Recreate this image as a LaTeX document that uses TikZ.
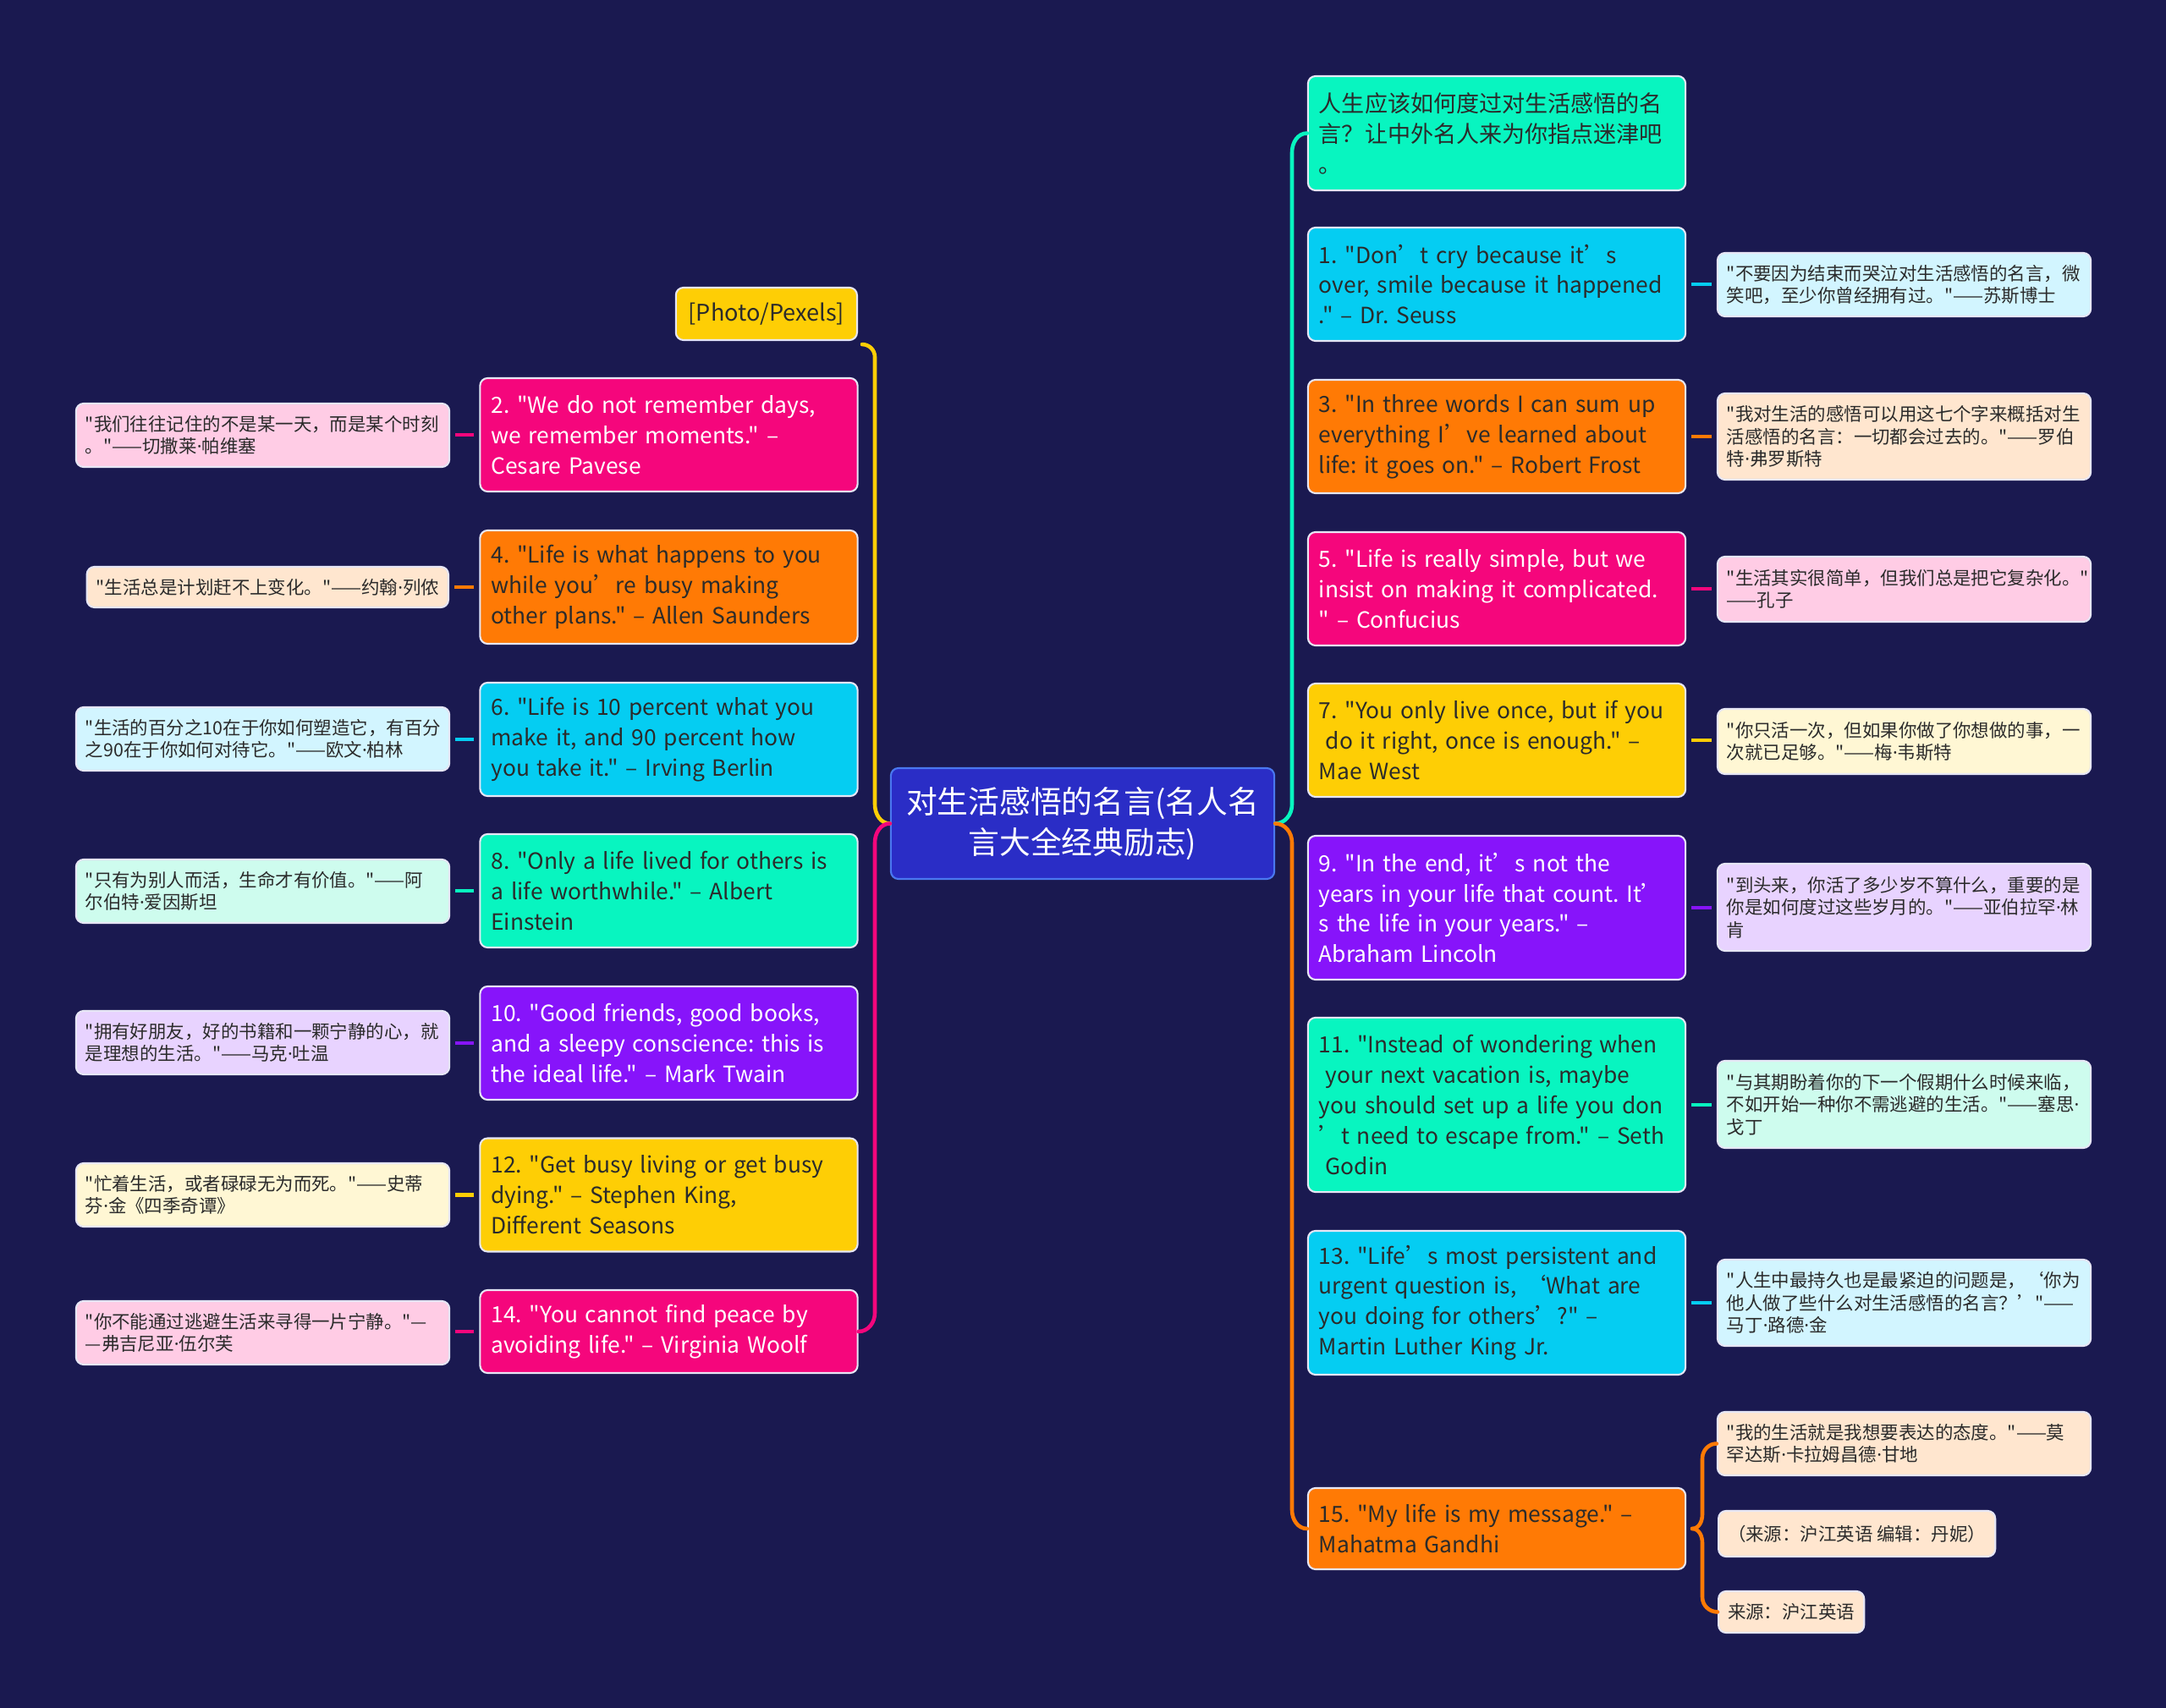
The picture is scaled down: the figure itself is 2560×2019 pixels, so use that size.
\documentclass[tikz,border=0pt]{standalone}
\usepackage{fontspec}
\newfontfamily\qf{Noto Sans CJK SC}
\newfontfamily\latf{Noto Sans}
\setmainfont{Noto Sans CJK SC}
\newcommand{\pdot}{{\latf\char"B7}}
\hyphenpenalty=10000
\exhyphenpenalty=10000
\frenchspacing
\usetikzlibrary{calc}
\definecolor{bgc}{HTML}{1A1950}
\definecolor{pinkc}{HTML}{F5067C}
\definecolor{orangec}{HTML}{FF7A05}
\definecolor{cyanc}{HTML}{05CDF2}
\definecolor{mintc}{HTML}{08F5C0}
\definecolor{yellowc}{HTML}{FECE05}
\definecolor{purplec}{HTML}{8714FA}
\definecolor{pinkl}{HTML}{FFCCE5}
\definecolor{orangel}{HTML}{FFE6CF}
\definecolor{cyanl}{HTML}{D2F5FF}
\definecolor{mintl}{HTML}{CEFCEE}
\definecolor{yellowl}{HTML}{FFF7D4}
\definecolor{purplel}{HTML}{E8D3FF}
\definecolor{centc}{HTML}{2A2DC6}
\definecolor{centb}{HTML}{4A78F0}
\definecolor{edgec}{HTML}{E6E6F5}
\definecolor{darkc}{HTML}{2B2B2B}
\begin{document}
\begin{tikzpicture}[x=0.01cm,y=0.01cm,
 box/.style={rectangle, rounded corners=0.09cm, draw=edgec, line width=0.6pt, align=left, inner ysep=0pt},
 mainbox/.style={box, inner xsep=0.13cm, text width=4.2cm, font=\qf\fontsize{7.5pt}{10.2pt}\selectfont},
 leafbox/.style={box, inner xsep=0.11cm, text width=4.19cm, font=\qf\fontsize{6.1pt}{7.5pt}\selectfont, text=darkc},
 leafone/.style={box, inner xsep=0.11cm, font=\qf\fontsize{6.1pt}{7.5pt}\selectfont, text=darkc},
 stub/.style={line width=1.4pt, shorten <=0.06cm, shorten >=0.06cm},
 branch/.style={line width=1.3pt, line cap=round}]
\useasboundingbox (0,0) rectangle (2560,-2019);
\fill[bgc] (0,0) rectangle (2560,-2019);

% center
\node[box, fill=centc, draw=centb, text=white, font=\qf\fontsize{10.45pt}{13.5pt}\selectfont, align=center, text width=4.3cm, inner xsep=0.115cm, minimum height=1.31cm] (c) at (1279.5,-973.5) {对生活感悟的名言(名人名\\言大全经典励志)};

% right main nodes
\node[mainbox, fill=mintc, text=darkc, minimum height=1.35cm, font=\qf\fontsize{7.7pt}{10.2pt}\selectfont] (r0) at (1769,-157.5) {人生应该如何度过对生活感悟的名\\言？让中外名人来为你指点迷津吧\\。};
\node[mainbox, fill=cyanc, text=darkc, minimum height=1.34cm] (n1) at (1769,-336) {1. "Don’t cry because it’s\\over, smile because it happened\\." – Dr. Seuss};
\node[mainbox, fill=orangec, text=darkc, minimum height=1.34cm] (n3) at (1769,-516) {3. "In three words I can sum up\\everything I’ve learned about\\life: it goes on." – Robert Frost};
\node[mainbox, fill=pinkc, text=white, minimum height=1.34cm] (n5) at (1769,-696) {5. "Life is really simple, but we\\insist on making it complicated.\\" – Confucius};
\node[mainbox, fill=yellowc, text=darkc, minimum height=1.34cm] (n7) at (1769,-875) {7. "You only live once, but if you\\\hspace*{0.3em}do it right, once is enough." –\\Mae West};
\node[mainbox, fill=purplec, text=white, minimum height=1.70cm] (n9) at (1769,-1073) {9. "In the end, it’s not the\\years in your life that count. It’\\s the life in your years." –\\Abraham Lincoln};
\node[mainbox, fill=mintc, text=darkc, minimum height=2.06cm] (n11) at (1769,-1306) {11. "Instead of wondering when\\\hspace*{0.3em}your next vacation is, maybe\\you should set up a life you don\\’t need to escape from." – Seth\\\hspace*{0.3em}Godin};
\node[mainbox, fill=cyanc, text=darkc, minimum height=1.70cm] (n13) at (1769,-1540) {13. "Life’s most persistent and\\urgent question is, ‘What are\\you doing for others’?" –\\Martin Luther King Jr.};
\node[mainbox, fill=orangec, text=darkc, minimum height=0.96cm] (n15) at (1769,-1807) {15. "My life is my message." –\\Mahatma Gandhi};

% right leaves
\node[leafbox, fill=cyanl, minimum height=0.75cm] (l1) at (2250.5,-336.5) {"不要因为结束而哭泣对生活感悟的名言，微\\笑吧，至少你曾经拥有过。"——苏斯博士};
\node[leafbox, fill=orangel, minimum height=1.02cm] (l3) at (2250.5,-516) {"我对生活的感悟可以用这七个字来概括对生\\活感悟的名言：一切都会过去的。"——罗伯\\特\pdot 弗罗斯特};
\node[leafbox, fill=pinkl, minimum height=0.77cm] (l5) at (2250.5,-696.5) {"生活其实很简单，但我们总是把它复杂化。"\\——孔子};
\node[leafbox, fill=yellowl, minimum height=0.77cm] (l7) at (2250.5,-876.5) {"你只活一次，但如果你做了你想做的事，一\\次就已足够。"——梅\pdot 韦斯特};
\node[leafbox, fill=purplel, minimum height=1.03cm] (l9) at (2250.5,-1072.5) {"到头来，你活了多少岁不算什么，重要的是\\你是如何度过这些岁月的。"——亚伯拉罕\pdot 林\\肯};
\node[leafbox, fill=mintl, minimum height=1.03cm] (l11) at (2250.5,-1305.5) {"与其期盼着你的下一个假期什么时候来临，\\不如开始一种你不需逃避的生活。"——塞思\pdot\\戈丁};
\node[leafbox, fill=cyanl, minimum height=1.02cm] (l13) at (2250.5,-1540) {"人生中最持久也是最紧迫的问题是，‘你为\\他人做了些什么对生活感悟的名言？’"——\\马丁\pdot 路德\pdot 金};
\node[leafbox, fill=orangel, minimum height=0.75cm] (l15a) at (2250.5,-1706.5) {"我的生活就是我想要表达的态度。"——莫\\罕达斯\pdot 卡拉姆昌德\pdot 甘地};
\node[leafone, fill=orangel, minimum height=0.54cm, anchor=west] (l15b) at (2030,-1813) {（来源：沪江英语 编辑：丹妮）};
\node[leafone, fill=orangel, minimum height=0.49cm, anchor=west] (l15c) at (2030,-1905.5) {来源：沪江英语};

% left main nodes
\node[box, fill=yellowc, text=darkc, inner xsep=0.15cm, font=\qf\fontsize{7.7pt}{10.2pt}\selectfont, minimum height=0.62cm, anchor=east] (photo) at (1014,-371) {[Photo/Pexels]};
\node[mainbox, fill=pinkc, text=white, minimum height=1.34cm] (n2) at (790.5,-514) {2. "We do not remember days,\\we remember moments." –\\Cesare Pavese};
\node[mainbox, fill=orangec, text=darkc, minimum height=1.34cm] (n4) at (790.5,-694) {4. "Life is what happens to you\\while you’re busy making\\other plans." – Allen Saunders};
\node[mainbox, fill=cyanc, text=darkc, minimum height=1.34cm] (n6) at (790.5,-874) {6. "Life is 10 percent what you\\make it, and 90 percent how\\you take it." – Irving Berlin};
\node[mainbox, fill=mintc, text=darkc, minimum height=1.34cm] (n8) at (790.5,-1053) {8. "Only a life lived for others is\\a life worthwhile." – Albert\\Einstein};
\node[mainbox, fill=purplec, text=white, minimum height=1.34cm] (n10) at (790.5,-1233) {10. "Good friends, good books,\\and a sleepy conscience: this is\\the ideal life." – Mark Twain};
\node[mainbox, fill=yellowc, text=darkc, minimum height=1.34cm] (n12) at (790.5,-1412.5) {12. "Get busy living or get busy\\dying." – Stephen King,\\Different Seasons};
\node[mainbox, fill=pinkc, text=white, minimum height=0.98cm] (n14) at (790.5,-1574) {14. "You cannot find peace by\\avoiding life." – Virginia Woolf};

% left leaves
\node[leafbox, fill=pinkl, minimum height=0.75cm] (l2) at (310.5,-514.5) {"我们往往记住的不是某一天，而是某个时刻\\。"——切撒莱\pdot 帕维塞};
\node[leafone, fill=orangel, minimum height=0.48cm, anchor=east] (l4) at (531,-694) {"生活总是计划赶不上变化。"——约翰\pdot 列侬};
\node[leafbox, fill=cyanl, minimum height=0.75cm] (l6) at (310.5,-873.5) {"生活的百分之10在于你如何塑造它，有百分\\之90在于你如何对待它。"——欧文\pdot 柏林};
\node[leafbox, fill=mintl, minimum height=0.75cm] (l8) at (310.5,-1053.5) {"只有为别人而活，生命才有价值。"——阿\\尔伯特\pdot 爱因斯坦};
\node[leafbox, fill=purplel, minimum height=0.75cm] (l10) at (310.5,-1232.5) {"拥有好朋友，好的书籍和一颗宁静的心，就\\是理想的生活。"——马克\pdot 吐温};
\node[leafbox, fill=yellowl, minimum height=0.75cm] (l12) at (310.5,-1412.5) {"忙着生活，或者碌碌无为而死。"——史蒂\\芬\pdot 金《四季奇谭》};
\node[leafbox, fill=pinkl, minimum height=0.75cm] (l14) at (310.5,-1575.5) {"你不能通过逃避生活来寻得一片宁静。"—\\—弗吉尼亚\pdot 伍尔芙};

% branch coordinates
\coordinate (yl1) at (1034,-422);
\coordinate (yl2) at (1034,-951);
\coordinate (pl1) at (1034,-996);
\coordinate (pl2) at (1034,-1552);
\coordinate (tl1) at (1527,-180);
\coordinate (tl2) at (1527,-951);
\coordinate (ol1) at (1527,-996);
\coordinate (ol2) at (1527,-1785);
\coordinate (nb) at (2000,-1807);
\coordinate (b1) at (2012,-1790);
\coordinate (b2) at (2012,-1724);
\coordinate (b3) at (2012,-1824);
\coordinate (b4) at (2012,-1888);

% main branches
\draw[branch, yellowc] ($(photo.south east)+(5,-4)$) to[out=0,in=90] (yl1) -- (yl2) to[out=-90,in=180] (c.west);
\draw[branch, pinkc] (c.west) to[out=180,in=90] (pl1) -- (pl2) to[out=-90,in=0] (n14.east);
\draw[branch, mintc] (r0.west) to[out=180,in=90] (tl1) -- (tl2) to[out=-90,in=0] (c.east);
\draw[branch, orangec] (c.east) to[out=0,in=90] (ol1) -- (ol2) to[out=-90,in=180] (n15.west);

% brace for 15
\draw[branch, orangec] (nb) to[out=0,in=-90] (b1) -- (b2) to[out=90,in=180] (l15a.west);
\draw[branch, orangec] (nb) to[out=0,in=90] (b3) -- (b4) to[out=-90,in=180] (l15c.west);

% stubs right
\draw[stub, cyanc] (n1.east) -- (n1.east -| l1.west);
\draw[stub, orangec] (n3.east) -- (n3.east -| l3.west);
\draw[stub, pinkc] (n5.east) -- (n5.east -| l5.west);
\draw[stub, yellowc] (n7.east) -- (n7.east -| l7.west);
\draw[stub, purplec] (n9.east) -- (n9.east -| l9.west);
\draw[stub, mintc] (n11.east) -- (n11.east -| l11.west);
\draw[stub, cyanc] (n13.east) -- (n13.east -| l13.west);
% stubs left
\draw[stub, pinkc] (n2.west) -- (n2.west -| l2.east);
\draw[stub, orangec] (n4.west) -- (n4.west -| l4.east);
\draw[stub, cyanc] (n6.west) -- (n6.west -| l6.east);
\draw[stub, mintc] (n8.west) -- (n8.west -| l8.east);
\draw[stub, purplec] (n10.west) -- (n10.west -| l10.east);
\draw[stub, yellowc] (n12.west) -- (n12.west -| l12.east);
\draw[stub, pinkc] (n14.west) -- (n14.west -| l14.east);
\end{tikzpicture}
\end{document}
